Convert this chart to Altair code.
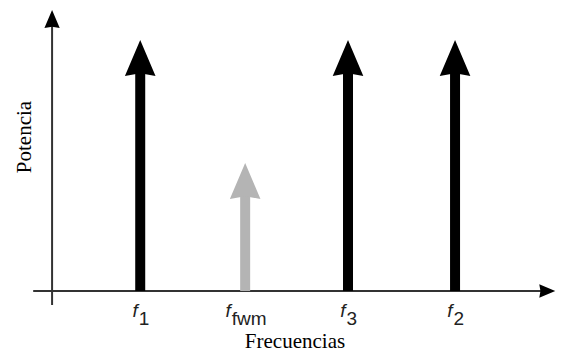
import altair as alt
import pandas as pd

# ---- data ----
subscripts = ["1", "fwm", "3", "2"]          # f_1, f_fwm, f_3, f_2
freq_pos = [1.0, 2.0, 2.98, 4.0]             # position on the frequency axis
power = [1.0, 0.51, 1.0, 1.0]                # relative power (arrow tip)
arrow_colors = ["#000000", "#b4b4b4", "#000000", "#000000"]

x_title = "Frecuencias"
y_title = "Potencia"

# ---- layout ----
W, H = 548, 344
X_DOMAIN = [-0.26, 4.962]
Y_DOMAIN = [-0.243, 1.1275]
HEAD = "M0,0 L0.85,2 L0,1.85 L-0.85,2 Z"     # arrow head, tip at origin
LABEL_Y = -0.104

xs = alt.Scale(domain=X_DOMAIN, nice=False, zero=False)
ys = alt.Scale(domain=Y_DOMAIN, nice=False, zero=False)

df = pd.DataFrame({"sub": subscripts, "pos": freq_pos, "power": power,
                   "color": arrow_colors})
base = alt.Chart(df)

shafts = base.transform_calculate(
    top="datum.power - 0.13", bottom="0"
).mark_rule(strokeWidth=10, strokeCap="butt").encode(
    x=alt.X("pos:Q", scale=xs, axis=None),
    y=alt.Y("bottom:Q", scale=ys, axis=None),
    y2="top:Q",
    color=alt.Color("color:N", scale=None),
)

heads = base.mark_point(shape=HEAD, size=1296, filled=True, opacity=1,
                        strokeWidth=0).encode(
    x=alt.X("pos:Q", scale=xs, axis=None),
    y=alt.Y("power:Q", scale=ys, axis=None),
    color=alt.Color("color:N", scale=None),
)

label_f = base.transform_calculate(
    lx="datum.pos + 0.033 - 0.057*length(datum.sub)", ly=str(LABEL_Y)
).mark_text(text="f", align="right", baseline="alphabetic", font="Liberation Sans",
            fontStyle="italic", fontSize=19, color="#222222").encode(
    x=alt.X("lx:Q", scale=xs, axis=None),
    y=alt.Y("ly:Q", scale=ys, axis=None),
)

label_sub = base.transform_calculate(
    lx="datum.pos + 0.033 - 0.057*length(datum.sub)", ly=str(LABEL_Y)
).mark_text(align="left", baseline="alphabetic", dx=1, dy=8,
            font="Liberation Sans", fontSize=19, color="#222222").encode(
    x=alt.X("lx:Q", scale=xs, axis=None),
    y=alt.Y("ly:Q", scale=ys, axis=None),
    text="sub:N",
)

# axes drawn as arrows
axes_df = pd.DataFrame({
    "x": [-0.02, 0.16], "x2": [4.86, 0.16],
    "y": [0.0, -0.056], "y2": [0.0, 1.06],
})
axis_lines = alt.Chart(axes_df).mark_rule(strokeWidth=2, color="#333333").encode(
    x=alt.X("x:Q", scale=xs, axis=None), x2="x2:Q",
    y=alt.Y("y:Q", scale=ys, axis=None), y2="y2:Q",
)
yhead = alt.Chart(pd.DataFrame({"x": [0.16], "y": [1.1195]})).mark_point(
    shape=HEAD, size=324, filled=True, opacity=1, strokeWidth=0, color="#000000"
).encode(x=alt.X("x:Q", scale=xs, axis=None), y=alt.Y("y:Q", scale=ys, axis=None))
xhead = alt.Chart(pd.DataFrame({"x": [4.955], "y": [0.0]})).mark_point(
    shape=HEAD, size=256, angle=90, filled=True, opacity=1, strokeWidth=0,
    color="#000000"
).encode(x=alt.X("x:Q", scale=xs, axis=None), y=alt.Y("y:Q", scale=ys, axis=None))

xt = alt.Chart(pd.DataFrame({"t": [x_title]})).mark_text(
    align="center", baseline="alphabetic", font="Liberation Serif", fontSize=21,
    color="#000000"
).encode(text="t:N", x=alt.value(287), y=alt.value(340))
yt = alt.Chart(pd.DataFrame({"t": [y_title]})).mark_text(
    align="center", baseline="alphabetic", angle=270, font="Liberation Serif",
    fontSize=21, color="#000000"
).encode(text="t:N", x=alt.value(23), y=alt.value(129))

chart = alt.layer(axis_lines, yhead, xhead, shafts, heads, label_f, label_sub,
                  xt, yt).properties(
    width=W, height=H, autosize="none", padding=0,
    background="#ffffff",
).configure_view(stroke=None)

chart.save("out.html", embed_options={"renderer": "svg", "actions": False})
